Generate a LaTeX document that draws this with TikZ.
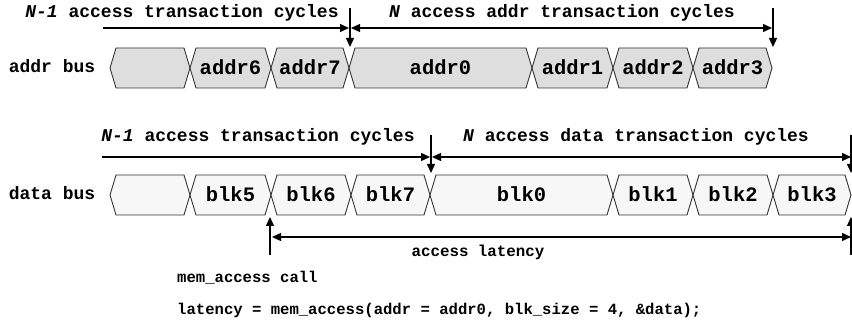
\documentclass[tikz,border=0pt]{standalone}
\usepackage{fontspec}
\setmonofont{Liberation Mono}
\usetikzlibrary{arrows.meta}
\tikzset{
  lbl/.style={font=\ttfamily\bfseries\fontsize{18}{20}\selectfont, anchor=base, inner sep=0pt},
  boxlbl/.style={font=\ttfamily\bfseries\fontsize{20.5}{22}\selectfont, anchor=base, inner sep=0pt},
  smalllbl/.style={font=\ttfamily\bfseries\fontsize{15.6}{18}\selectfont, anchor=base west, inner sep=0pt},
  seg/.style={draw=black!80, line width=0.9pt, line join=miter},
  addrseg/.style={seg, fill=black!13},
  dataseg/.style={seg, fill=black!3},
  arr/.style={line width=1.3pt, -{Triangle[length=9pt,width=8pt]}},
  darr/.style={line width=1.3pt, {Triangle[length=9pt,width=8pt]}-{Triangle[length=9pt,width=8pt]}},
}
\newcommand\busseg[4]{\draw[#1] (#2,#4) -- (#2+6,#4-20) -- (#3-6,#4-20) -- (#3,#4) -- (#3-6,#4+20) -- (#2+6,#4+20) -- cycle;}
\begin{document}
\begin{tikzpicture}[x=1pt,y=-1pt]
\fill[white] (0,0) rectangle (852,323);
\useasboundingbox (0,0) rectangle (852,323);

% ---------- addr bus ----------
\node[lbl] (addrlbl) at (52,73) {addr bus};
\busseg{addrseg}{110}{190}{68}
\busseg{addrseg}{190}{271}{68}
\busseg{addrseg}{271}{349}{68}
\busseg{addrseg}{349}{532}{68}
\busseg{addrseg}{532}{613}{68}
\busseg{addrseg}{613}{693}{68}
\busseg{addrseg}{693}{772}{68}
\node[boxlbl] (a6) at (230.5,75) {addr6};
\node[boxlbl] (a7) at (310,75) {addr7};
\node[boxlbl] (a0) at (440.5,75) {addr0};
\node[boxlbl] (a1) at (572.5,75) {addr1};
\node[boxlbl] (a2) at (653,75) {addr2};
\node[boxlbl] (a3) at (732.5,75) {addr3};

\node[lbl] (atop1) at (182,18) {{\itshape N-1} access transaction cycles};
\node[lbl] (atop2) at (562,18) {{\itshape N} access addr transaction cycles};
\coordinate (aL) at (103,28);
\coordinate (aM) at (349,28);
\coordinate (aMr) at (351,28);
\coordinate (aR) at (772,28);
\coordinate (aMt) at (350,8);
\coordinate (aMb) at (350,47);
\coordinate (aRt) at (773,8);
\coordinate (aRb) at (773,47);
\draw[arr] (aL) -- (aM);
\draw[darr] (aMr) -- (aR);
\draw[arr] (aMt) -- (aMb);
\draw[arr] (aRt) -- (aRb);

% ---------- data bus ----------
\node[lbl] (datalbl) at (52,200) {data bus};
\busseg{dataseg}{110}{190}{195}
\busseg{dataseg}{190}{271}{195}
\busseg{dataseg}{271}{351}{195}
\busseg{dataseg}{351}{430}{195}
\busseg{dataseg}{430}{613}{195}
\busseg{dataseg}{613}{693}{195}
\busseg{dataseg}{693}{773}{195}
\busseg{dataseg}{773}{851}{195}
\node[boxlbl] (b5) at (230.5,202) {blk5};
\node[boxlbl] (b6) at (311,202) {blk6};
\node[boxlbl] (b7) at (390.5,202) {blk7};
\node[boxlbl] (b0) at (521.5,202) {blk0};
\node[boxlbl] (b1) at (653,202) {blk1};
\node[boxlbl] (b2) at (733,202) {blk2};
\node[boxlbl] (b3) at (812,202) {blk3};

\node[lbl] (dtop1) at (258,142) {{\itshape N-1} access transaction cycles};
\node[lbl] (dtop2) at (636,142) {{\itshape N} access data transaction cycles};
\coordinate (dL) at (102,157);
\coordinate (dM) at (430,157);
\coordinate (dMr) at (432,157);
\coordinate (dR) at (851,157);
\coordinate (dMt) at (431,135);
\coordinate (dMb) at (431,173);
\coordinate (dRt) at (851,135);
\coordinate (dRb) at (851,173);
\draw[arr] (dL) -- (dM);
\draw[darr] (dMr) -- (dR);
\draw[arr] (dMt) -- (dMb);
\draw[arr] (dRt) -- (dRb);

% ---------- latency ----------
\coordinate (cB) at (270,255);
\coordinate (cT) at (270,217);
\coordinate (lL) at (272,237);
\coordinate (lR) at (851,237);
\coordinate (rB) at (851,255);
\coordinate (rT) at (851,217);
\draw[arr] (cB) -- (cT);
\draw[arr] (rB) -- (rT);
\draw[darr] (lL) -- (lR);
\node[lbl, font=\ttfamily\bfseries\fontsize{15.8}{18}\selectfont] (lat) at (478,257) {access latency};
\node[smalllbl] (call) at (177,283) {mem\_access call};
\node[smalllbl] (code) at (177,315) {latency = mem\_access(addr = addr0, blk\_size = 4, \&data);};
\end{tikzpicture}
\end{document}
